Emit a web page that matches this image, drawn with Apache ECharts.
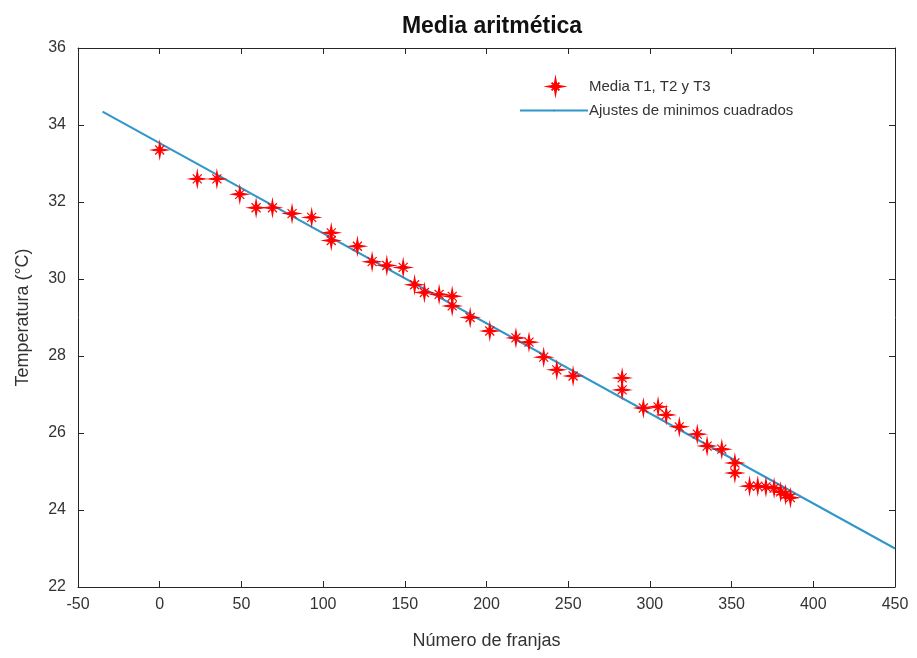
<!DOCTYPE html>
<html>
<head>
<meta charset="utf-8">
<title>Media aritmética</title>
<script src="https://cdn.jsdelivr.net/npm/echarts@6/dist/echarts.min.js"></script>
<style>
  html, body { margin: 0; padding: 0; background: #fff; }
  #chart { width: 917px; height: 658px; }
</style>
</head>
<body>
<div id="chart"></div>
<script>
// datos
var franjas = [0, 23, 35, 49, 59, 69, 81, 93, 105, 105, 121, 130, 139, 149, 156, 162, 171, 179, 179,
  190, 202, 218, 226, 235, 243, 253, 283, 283, 296, 305, 310, 318, 329, 335, 344, 352, 352,
  361, 366, 371, 376, 380, 383, 386];
var temps = [33.35, 32.6, 32.6, 32.2, 31.85, 31.85, 31.7, 31.6, 31.2, 31.0, 30.85, 30.45, 30.35, 30.3, 29.85, 29.65, 29.6, 29.55, 29.3,
  29.0, 28.65, 28.47, 28.36, 27.97, 27.64, 27.48, 27.43, 27.12, 26.65, 26.68, 26.47, 26.16, 25.97, 25.66, 25.58, 25.22, 24.96,
  24.62, 24.62, 24.6, 24.57, 24.47, 24.4, 24.32];
// recta de minimos cuadrados (extremos)
var fitX = [-35, 450];
var fitY = [34.35, 23.0];
var xTicks = [-50, 0, 50, 100, 150, 200, 250, 300, 350, 400, 450];
var yTicks = [22, 24, 26, 28, 30, 32, 34, 36];

var txt = "#333333";
var font = "Liberation Sans";
var star = "path://M0,-10L1.5,-1.5L10,0L1.5,1.5L0,10L-1.5,1.5L-10,0L-1.5,-1.5ZM-6,-6L6,6M-6,6L6,-6";

var chart = echarts.init(document.getElementById("chart"));

var puntos = franjas.map(function(f, i) { return [f, temps[i]]; });
var recta = fitX.map(function(f, i) { return [f, fitY[i]]; });

var option = {
  animation: false,
  backgroundColor: "#ffffff",
  title: {
    text: "Media aritmética",
    left: 487,
    top: 10,
    textAlign: "center",
    textStyle: { fontFamily: font, fontSize: 23, fontWeight: "bold", color: "#111" }
  },
  legend: [
    {
      data: [{ name: "Media T1, T2 y T3", icon: star }],
      left: 543,
      top: 74,
      itemWidth: 13,
      itemHeight: 13,
      itemGap: 4,
      textStyle: { fontFamily: font, fontSize: 15, color: txt, padding: [0, 0, 0, 22] }
    },
    {
      data: ["Ajustes de minimos cuadrados"],
      left: 514,
      top: 98,
      itemWidth: 68,
      itemHeight: 2,
      itemGap: 2,
      textStyle: { fontFamily: font, fontSize: 15, color: txt, padding: [0, 0, 0, -4] }
    }
  ],
  grid: { left: 78, right: 22, top: 48, bottom: 71, show: false },
  xAxis: [
    {
      type: "value",
      min: -50,
      max: 450,
      interval: 50,
      name: "Número de franjas",
      nameLocation: "middle",
      nameGap: 45,
      nameTextStyle: { fontFamily: font, fontSize: 18, color: txt },
      axisLine: { show: true, onZero: false, lineStyle: { color: "#262626", width: 1 } },
      axisTick: { show: true, inside: true, length: 6, lineStyle: { color: "#262626" } },
      axisLabel: {
        fontFamily: font, fontSize: 16, color: txt, margin: 10,
        customValues: xTicks
      },
      splitLine: { show: false }
    },
    {
      type: "value",
      position: "top",
      min: -50,
      max: 450,
      interval: 50,
      axisLine: { show: true, onZero: false, lineStyle: { color: "#262626", width: 1 } },
      axisTick: { show: true, inside: true, length: 6, lineStyle: { color: "#262626" } },
      axisLabel: { show: false },
      splitLine: { show: false }
    }
  ],
  yAxis: [
    {
      type: "value",
      min: 22,
      max: 36,
      interval: 2,
      name: "Temperatura (°C)",
      nameLocation: "middle",
      nameGap: 46,
      nameTextStyle: { fontFamily: font, fontSize: 18, color: txt },
      axisLine: { show: true, onZero: false, lineStyle: { color: "#262626", width: 1 } },
      axisTick: { show: true, inside: true, length: 6, lineStyle: { color: "#262626" } },
      axisLabel: {
        fontFamily: font, fontSize: 16, color: txt, margin: 12,
        customValues: yTicks
      },
      splitLine: { show: false }
    },
    {
      type: "value",
      position: "right",
      min: 22,
      max: 36,
      interval: 2,
      axisLine: { show: true, onZero: false, lineStyle: { color: "#262626", width: 1 } },
      axisTick: { show: true, inside: true, length: 6, lineStyle: { color: "#262626" } },
      axisLabel: { show: false },
      splitLine: { show: false }
    }
  ],
  series: [
    {
      name: "Ajustes de minimos cuadrados",
      type: "line",
      data: recta,
      symbol: "none",
      lineStyle: { color: "#2f97cb", width: 2 },
      itemStyle: { color: "#1f7cc0" },
      z: 2
    },
    {
      name: "Media T1, T2 y T3",
      type: "scatter",
      data: puntos,
      symbol: star,
      symbolSize: 15,
      itemStyle: { color: "#ff0000", borderColor: "#ff0000", borderWidth: 1.2, opacity: 1 },
      z: 3
    }
  ]
};

chart.setOption(option);
</script>
</body>
</html>
